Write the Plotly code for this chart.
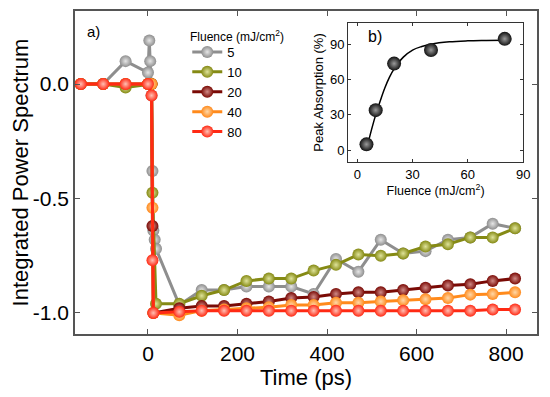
import plotly.graph_objects as go

# ---------------- data ----------------
post_times = [70, 120, 170, 220, 270, 320, 370, 420, 470, 520, 570, 620, 670, 720, 770, 820]

t_5 = [-150, -100, -50, 0, 3, 5, 8, 10, 12, 15, 18] + post_times
v_5 = [0.0, 0.0, 0.10, 0.05, 0.19, 0.10, -0.05, -0.38, -0.64, -0.68, -0.72,
       -0.965, -0.90, -0.90, -0.885, -0.885, -0.885, -0.917, -0.764, -0.82, -0.68,
       -0.74, -0.73, -0.68, -0.67, -0.61, -0.63]

t_10 = [-150, -100, -50, 0, 8, 10, 18] + post_times
v_10 = [0.0, 0.0, -0.015, 0.0, 0.0, -0.475, -0.96,
        -0.96, -0.925, -0.90, -0.86, -0.85, -0.85, -0.815, -0.79, -0.745, -0.75,
        -0.74, -0.71, -0.70, -0.67, -0.67, -0.63]

t_20 = [-150, -100, -50, 0, 8, 10, 12] + post_times
v_20 = [0.0, 0.0, 0.0, 0.0, 0.0, -0.62, -1.0,
        -0.98, -0.97, -0.97, -0.96, -0.95, -0.935, -0.93, -0.917, -0.91, -0.91,
        -0.90, -0.89, -0.88, -0.875, -0.86, -0.85]

t_40 = [-150, -100, -50, 0, 8, 10, 12] + post_times
v_40 = [0.0, 0.0, 0.0, 0.0, 0.0, -0.54, -1.0,
        -1.01, -0.99, -0.985, -0.98, -0.975, -0.965, -0.965, -0.955, -0.955, -0.95,
        -0.945, -0.94, -0.935, -0.92, -0.917, -0.91]

t_80 = [-150, -100, -50, 0, 8, 10, 12] + post_times
v_80 = [0.0, 0.0, 0.0, 0.0, -0.05, -0.77, -1.0,
        -0.995, -0.99, -0.99, -0.99, -0.99, -0.99, -0.99, -0.99, -0.99, -0.99,
        -0.99, -0.99, -0.99, -0.99, -0.985, -0.985]

series_names = ["5", "10", "20", "40", "80"]
series_t = [t_5, t_10, t_20, t_40, t_80]
series_v = [v_5, v_10, v_20, v_40, v_80]
series_colors = ["#8e8e8e", "#858a14", "#7a0a05", "#ff8a1c", "#ff2a14"]
series_glow = ["#e6e6e6", "#dfe39a", "#d08a86", "#ffd8a8", "#ffc0b4"]

# inset data
fluence = [5, 10, 20, 40, 80]
peak_abs = [5, 34, 73.5, 85, 94.5]
fit_f = [5, 6.5, 8, 10, 12.5, 15, 17.5, 20, 25, 30, 35, 40, 50, 60, 70, 80]
fit_v = [1, 10, 19, 30, 42, 53, 62, 69, 79, 85, 88, 90, 92, 92.8, 93.1, 93.3]

x_ticks = [0, 200, 400, 600, 800]
y_ticks = [0.0, -0.5, -1.0]
y_ticktext = ["0.0", "-0.5", "-1.0"]
in_x_ticks = [0, 30, 60, 90]
in_y_ticks = [0, 30, 60, 90]

FONT = "Liberation Sans, Arial, Helvetica, sans-serif"

fig = go.Figure()

for name, t, v, c, g in zip(series_names, series_t, series_v, series_colors, series_glow):
    fig.add_trace(go.Scatter(
        x=t, y=v, name=name, mode="lines+markers",
        line=dict(color=c, width=3),
        marker=dict(color=c, size=12, gradient=dict(type="radial", color=g),
                    line=dict(width=0)),
        xaxis="x", yaxis="y",
    ))

fig.add_trace(go.Scatter(
    x=fit_f, y=fit_v, mode="lines", line=dict(color="black", width=1.5, shape="spline"),
    showlegend=False, xaxis="x2", yaxis="y2", hoverinfo="skip",
))
fig.add_trace(go.Scatter(
    x=fluence, y=peak_abs, mode="markers",
    marker=dict(color="#111111", size=14, gradient=dict(type="radial", color="#9a9a9a"),
                line=dict(width=0)),
    showlegend=False, xaxis="x2", yaxis="y2",
))

axis_common = dict(showline=True, mirror="ticks", ticks="inside", showgrid=False,
                   zeroline=False, automargin=False)

fig.update_layout(
    width=542, height=389,
    margin=dict(l=67, r=13, t=3, b=63),
    paper_bgcolor="white", plot_bgcolor="white",
    font=dict(family=FONT, color="black"),
    xaxis=dict(domain=[0, 1], range=[-163, 869], tickvals=x_ticks,
               linecolor="#555555", linewidth=1.5, tickcolor="#555555", ticklen=5,
               tickfont=dict(size=21), title=dict(text="Time (ps)", font=dict(size=22), standoff=0),
               **axis_common),
    yaxis=dict(domain=[0, 1], range=[-1.092, 0.319], tickvals=y_ticks, ticktext=y_ticktext,
               linecolor="#555555", linewidth=1.5, tickcolor="#555555", ticklen=5,
               tickfont=dict(size=21),
               title=dict(text="Integrated Power Spectrum", font=dict(size=22), standoff=9),
               **axis_common),
    xaxis2=dict(domain=[0.591, 0.970], anchor="y2", range=[-5, 90], tickvals=in_x_ticks,
                linecolor="#333333", linewidth=1, tickcolor="#333333", ticklen=3,
                tickfont=dict(size=13),
                title=dict(text="Fluence (mJ/cm<sup>2</sup>)", font=dict(size=12.5), standoff=2),
                **axis_common),
    yaxis2=dict(domain=[0.5325, 0.963], anchor="x2", range=[-10, 108], tickvals=in_y_ticks,
                linecolor="#333333", linewidth=1, tickcolor="#333333", ticklen=3,
                tickfont=dict(size=13),
                title=dict(text="Peak Absorption (%)", font=dict(size=13), standoff=3),
                **axis_common),
    legend=dict(x=0.243, y=0.9195, xanchor="left", yanchor="top",
                bgcolor="rgba(0,0,0,0)", font=dict(size=13),
                tracegroupgap=0),
    showlegend=True,
    annotations=[
        dict(text="Fluence (mJ/cm<sup>2</sup>)", x=0.245, y=0.922, xref="paper", yref="paper",
             showarrow=False, xanchor="left", yanchor="middle", font=dict(size=12)),
        dict(text="a)", x=0.022, y=0.935, xref="paper", yref="paper", showarrow=False,
             xanchor="left", yanchor="middle", font=dict(size=15)),
        dict(text="b)", x=0.63, y=0.92, xref="paper", yref="paper", showarrow=False,
             xanchor="left", yanchor="middle", font=dict(size=16)),
    ],
)

fig.write_html("out.html")
